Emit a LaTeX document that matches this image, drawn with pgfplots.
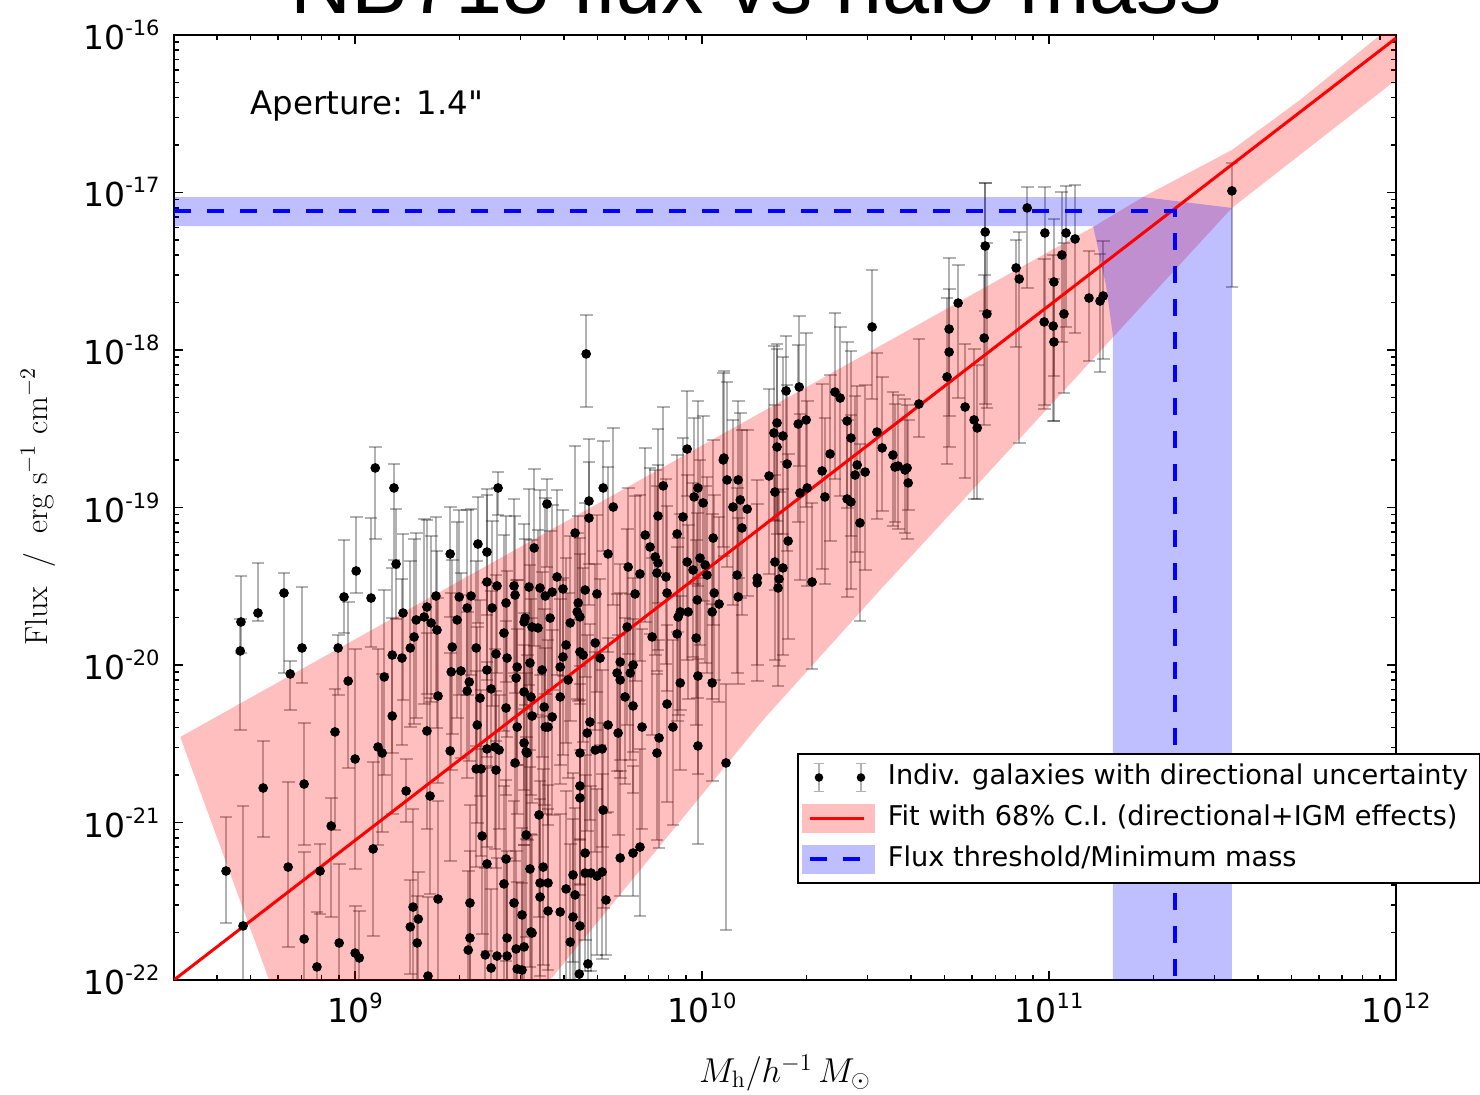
\documentclass[border=0pt]{standalone}
\usepackage{pgfplots}
\pgfplotsset{compat=1.18}
\usepackage{pgfplotstable}
\usepackage{fontspec}
\newfontfamily\dejavu{DejaVu Sans}
\newfontfamily\helv{Liberation Sans}

% log10 halo mass, log10 flux, lower / upper uncertainty in dex
\pgfplotstableread{
lx ly el eh
8.628 -21.308 0.33 0.34
8.677 -21.657 0.62 0.76
8.735 -20.781 0.31 0.30
8.807 -21.283 0.51 0.54
8.853 -20.756 0.39 0.39
8.853 -21.740 0.55 0.55
8.890 -21.917 0.50 0.35
8.899 -21.308 0.27 0.17
8.931 -21.022 0.58 0.18
8.942 -20.425 0.62 0.27
8.954 -21.765 0.50 0.50
9.000 -20.597 0.70 0.70
9.000 -21.829 0.30 0.30
9.012 -21.860 0.30 0.30
9.052 -21.168 0.55 0.55
9.066 -20.521 0.62 0.62
9.078 -20.559 0.50 0.50
9.147 -20.800 0.20 0.20
9.207 -20.419 0.62 0.62
9.216 -20.832 0.62 0.62
9.167 -21.537 0.62 0.62
9.182 -21.613 0.50 0.30
9.159 -21.663 0.30 0.30
9.179 -21.765 0.30 0.30
9.239 -21.486 0.62 0.62
9.210 -21.975 0.50 0.50
9.274 -20.546 0.70 0.62
9.349 -20.660 0.62 0.62
9.363 -20.660 0.55 0.50
9.380 -20.533 0.62 0.55
9.403 -20.521 0.65 0.62
9.415 -20.540 0.50 0.35
9.406 -20.667 0.62 0.50
9.366 -21.086 0.62 0.55
9.380 -21.263 0.55 0.62
9.435 -21.232 0.65 0.50
9.429 -21.390 0.62 0.62
9.458 -21.511 0.55 0.65
9.481 -21.587 0.62 0.55
9.331 -21.511 0.50 0.62
9.331 -21.733 0.55 0.55
9.326 -21.810 0.50 0.50
9.375 -21.841 0.50 0.55
9.392 -21.924 0.35 0.50
9.409 -21.848 0.50 0.62
9.438 -21.848 0.55 0.62
9.438 -21.733 0.62 0.55
9.464 -21.803 0.50 0.62
9.487 -21.790 0.55 0.65
9.467 -21.930 0.50 0.55
9.493 -21.079 0.65 0.62
9.504 -21.295 0.62 0.65
9.507 -21.695 0.55 0.62
9.461 -20.622 0.62 0.55
9.487 -20.495 0.65 0.62
9.493 -20.552 0.55 0.50
9.352 -20.381 0.62 0.62
9.827 -20.394 0.65 0.62
9.916 -20.394 0.62 0.55
9.876 -20.463 0.70 0.62
9.870 -20.559 0.55 0.50
9.988 -20.514 0.62 0.55
9.758 -20.432 0.65 0.62
9.669 -20.432 0.62 0.62
9.648 -20.559 0.55 0.55
9.712 -20.533 0.62 0.50
9.692 -20.540 0.65 0.62
9.556 -20.394 0.62 0.55
9.496 -20.559 0.55 0.62
9.648 -20.768 0.62 0.65
9.648 -20.844 0.55 0.62
9.715 -20.921 0.62 0.55
9.530 -20.952 0.65 0.62
10.069 -20.622 1.06 0.50
9.821 -21.156 0.44 0.62
9.801 -21.194 0.27 0.55
9.764 -21.225 0.24 0.55
9.542 -21.283 0.62 0.62
9.628 -21.333 0.55 0.65
9.663 -21.321 0.62 0.62
9.697 -21.340 0.50 0.55
9.712 -21.314 0.55 0.62
9.680 -21.321 0.62 0.55
9.663 -21.194 0.55 0.62
9.533 -21.384 0.62 0.65
9.556 -21.384 0.55 0.62
9.608 -21.422 0.62 0.62
9.634 -21.460 0.55 0.55
9.533 -21.473 0.50 0.62
9.723 -21.492 0.35 0.55
9.556 -21.562 0.55 0.65
9.591 -21.568 0.62 0.62
9.628 -21.600 0.55 0.62
9.648 -21.657 0.50 0.55
9.510 -21.702 0.55 0.62
9.620 -21.759 0.50 0.62
9.481 -21.937 0.50 0.55
9.671 -21.898 0.30 0.55
9.646 -21.962 0.35 0.50
9.058 -18.749 0.45 0.13
9.112 -18.876 0.46 0.15
9.412 -18.876 0.17 0.10
9.118 -19.359 0.35 0.35
9.003 -19.403 0.14 0.34
8.968 -19.568 0.23 0.36
9.046 -19.575 0.31 0.51
8.795 -19.543 0.51 0.13
8.720 -19.670 0.05 0.32
8.671 -19.727 0.20 0.29
8.669 -19.911 0.50 0.20
8.847 -19.892 0.22 0.39
8.813 -20.057 0.23 0.08
8.951 -19.892 0.30 0.08
9.274 -19.295 0.40 0.30
9.354 -19.232 0.50 0.30
9.380 -19.283 0.40 0.40
9.138 -19.670 0.55 0.50
9.176 -19.714 0.62 0.55
9.199 -19.695 0.55 0.62
9.219 -19.733 0.50 0.55
9.236 -19.778 0.62 0.50
9.207 -19.632 0.55 0.55
9.233 -19.562 0.62 0.50
9.170 -19.822 0.55 0.62
9.159 -19.892 0.50 0.55
9.107 -19.937 0.62 0.55
9.135 -19.956 0.55 0.50
9.084 -20.076 0.62 0.55
8.980 -20.102 0.55 0.50
9.107 -20.324 0.62 0.62
9.239 -20.197 0.55 0.62
9.300 -19.568 0.62 0.55
9.323 -19.638 0.55 0.62
9.334 -19.562 0.50 0.55
9.294 -19.714 0.62 0.62
9.280 -19.886 0.55 0.55
9.277 -20.044 0.62 0.50
9.305 -20.038 0.55 0.62
9.329 -20.108 0.50 0.55
9.349 -19.892 0.62 0.55
9.323 -20.165 0.55 0.50
9.360 -20.210 0.62 0.62
9.380 -20.032 0.55 0.55
9.392 -20.152 0.50 0.62
9.380 -19.473 0.62 0.55
9.409 -19.498 0.55 0.62
9.395 -19.638 0.62 0.55
9.406 -19.930 0.55 0.50
9.435 -19.606 0.50 0.55
9.429 -19.797 0.62 0.62
9.458 -19.498 0.55 0.55
9.461 -19.556 0.62 0.50
9.487 -19.727 0.55 0.62
9.438 -19.956 0.50 0.55
9.467 -20.013 0.62 0.55
9.464 -20.083 0.55 0.62
9.487 -20.171 0.62 0.50
9.435 -20.273 0.55 0.55
9.501 -19.505 0.62 0.62
9.510 -19.759 0.55 0.55
9.507 -20.203 0.62 0.62
9.467 -20.394 0.55 0.62
9.553 -18.978 0.40 0.16
9.674 -18.959 0.40 0.25
9.715 -18.876 0.40 0.30
9.674 -19.067 0.55 0.50
9.744 -18.997 0.62 0.50
9.634 -19.162 0.55 0.55
9.516 -19.257 0.62 0.50
9.888 -18.863 0.55 0.50
9.988 -18.876 0.62 0.55
9.977 -18.933 0.55 0.50
10.003 -18.971 0.62 0.55
10.072 -18.825 0.55 0.62
10.104 -18.825 0.62 0.50
10.061 -18.698 0.55 0.55
10.193 -18.800 0.62 0.55
10.245 -18.724 0.55 0.50
10.346 -18.768 0.62 0.55
10.447 -18.730 0.55 0.50
10.470 -18.775 0.62 0.55
10.441 -18.794 0.55 0.50
10.210 -18.902 0.62 0.55
10.282 -18.908 0.55 0.50
10.303 -18.876 0.62 0.55
10.354 -18.933 0.55 0.50
10.089 -18.997 0.62 0.55
10.130 -19.010 0.55 0.50
10.110 -18.952 0.62 0.55
9.873 -19.054 0.55 0.55
9.945 -19.060 0.62 0.50
10.115 -19.130 0.55 0.62
10.418 -18.946 0.62 0.50
10.429 -18.965 0.55 0.55
10.455 -19.098 0.62 0.50
9.836 -19.175 0.55 0.55
9.928 -19.168 0.62 0.50
10.032 -19.194 0.55 0.62
10.248 -19.213 0.62 0.55
9.850 -19.251 0.55 0.50
9.865 -19.314 0.62 0.55
9.873 -19.352 0.55 0.62
9.729 -19.295 0.62 0.55
9.787 -19.378 0.55 0.50
9.957 -19.346 0.62 0.55
9.994 -19.321 0.55 0.62
10.009 -19.365 0.62 0.50
9.974 -19.397 0.55 0.55
10.014 -19.429 0.62 0.62
9.821 -19.422 0.55 0.50
9.870 -19.416 0.62 0.55
9.896 -19.441 0.55 0.62
10.210 -19.346 0.62 0.55
10.233 -19.384 0.55 0.50
10.101 -19.429 0.62 0.55
10.159 -19.448 0.55 0.62
10.159 -19.479 0.62 0.50
10.222 -19.454 0.55 0.55
10.219 -19.511 0.62 0.62
10.317 -19.473 0.55 0.50
9.582 -19.441 0.62 0.55
9.533 -19.511 0.55 0.62
9.568 -19.537 0.62 0.55
9.599 -19.517 0.55 0.50
9.548 -19.562 0.62 0.62
9.663 -19.524 0.55 0.55
9.697 -19.549 0.62 0.50
9.807 -19.549 0.55 0.62
9.899 -19.543 0.62 0.55
10.104 -19.568 0.55 0.50
10.049 -19.613 0.62 0.55
10.035 -19.543 0.55 0.62
9.643 -19.606 0.62 0.55
9.640 -19.663 0.55 0.50
9.937 -19.663 0.62 0.62
9.960 -19.663 0.55 0.55
9.931 -19.695 0.62 0.50
10.029 -19.663 0.55 0.62
9.986 -19.587 0.62 0.55
9.490 -19.702 0.55 0.50
9.562 -19.702 0.62 0.55
9.527 -19.765 0.55 0.62
9.620 -19.733 0.62 0.55
9.648 -19.695 0.55 0.50
9.784 -19.759 0.62 0.62
9.928 -19.803 0.55 0.55
9.856 -19.822 0.62 0.50
9.983 -19.829 0.55 0.62
9.608 -19.873 0.62 0.55
9.692 -19.860 0.55 0.50
9.648 -19.917 0.62 0.62
9.657 -19.937 0.55 0.55
9.599 -19.949 0.62 0.50
9.504 -19.987 0.55 0.62
9.591 -20.013 0.62 0.55
9.706 -19.956 0.55 0.50
9.764 -19.981 0.62 0.62
9.801 -20.000 0.55 0.55
9.755 -20.051 0.62 0.50
9.539 -20.032 0.55 0.62
9.614 -20.095 0.62 0.55
9.793 -20.051 0.55 0.50
9.988 -20.070 0.62 0.62
9.937 -20.114 0.55 0.55
10.029 -20.114 0.62 0.50
9.591 -20.203 0.55 0.62
9.764 -20.095 0.62 0.55
9.778 -20.203 0.55 0.50
9.545 -20.267 0.62 0.62
9.801 -20.260 0.55 0.55
9.899 -20.248 0.62 0.50
9.510 -20.324 0.55 0.62
9.568 -20.330 0.62 0.55
9.548 -20.394 0.55 0.50
9.677 -20.362 0.62 0.62
9.729 -20.381 0.55 0.55
9.666 -18.025 0.34 0.25
10.490 -17.854 0.46 0.36
9.957 -18.629 0.30 0.37
10.242 -18.260 0.45 0.35
10.280 -18.235 0.50 0.45
10.383 -18.267 0.55 0.50
10.398 -18.305 0.62 0.45
10.418 -18.451 0.55 0.50
10.429 -18.559 0.62 0.55
10.504 -18.521 0.55 0.50
10.216 -18.463 0.62 0.50
10.207 -18.527 0.55 0.55
10.233 -18.546 0.62 0.50
10.216 -18.616 0.55 0.62
10.277 -18.470 0.62 0.50
10.300 -18.444 0.55 0.55
10.063 -18.686 0.62 0.55
10.369 -18.660 0.55 0.50
10.816 -17.251 0.50 0.31
10.816 -17.340 1.00 0.40
10.937 -17.098 0.51 0.13
10.988 -17.257 1.09 0.29
11.049 -17.257 0.60 0.30
11.075 -17.295 0.60 0.34
11.037 -17.397 0.55 0.40
10.905 -17.479 0.50 0.18
10.914 -17.549 1.04 0.30
11.014 -17.568 0.60 0.40
11.043 -17.771 0.50 0.45
10.986 -17.822 0.55 0.40
11.012 -17.848 0.60 0.45
11.014 -17.949 0.50 0.40
10.738 -17.702 0.60 0.24
10.712 -17.867 0.55 0.45
10.712 -18.013 0.60 0.40
10.706 -18.171 0.55 0.50
10.821 -17.771 0.60 0.45
10.813 -17.924 0.55 0.40
11.115 -17.670 0.40 0.30
11.147 -17.689 0.45 0.30
11.156 -17.657 0.40 0.35
10.625 -18.343 0.21 0.41
10.758 -18.362 0.45 0.40
10.784 -18.444 0.50 0.45
10.793 -18.495 0.45 0.40
10.519 -18.622 0.40 0.45
10.550 -18.667 0.45 0.40
10.565 -18.737 0.40 0.45
10.591 -18.749 0.45 0.40
11.527 -16.990 0.61 0.18
10.556 -18.743 0.35 0.40
10.585 -18.762 0.40 0.45
10.594 -18.844 0.17 0.40
}\galaxies

% tick label: "10" with a raised exponent
\newcommand{\tlab}[1]{{\dejavu\fontsize{16.5}{18}\selectfont 10\raisebox{7pt}{\fontsize{10.5}{12}\selectfont #1}}}

\begin{document}
\begin{tikzpicture}
\begin{axis}[
  at={(87pt,57.5pt)}, anchor=south west,
  scale only axis, width=611pt, height=472.5pt,
  xmin=8.478, xmax=12, ymin=-22, ymax=-16,
  xtick={9,10,11,12},
  xticklabels={\tlab{9},\tlab{10},\tlab{11},\tlab{12}},
  ytick={-22,-21,-20,-19,-18,-17,-16},
  yticklabels={\tlab{-22},\tlab{-21},\tlab{-20},\tlab{-19},\tlab{-18},\tlab{-17},\tlab{-16}},
  minor xtick={8.60206,8.69897,8.77815,8.84510,8.90309,8.95424,
    9.30103,9.47712,9.60206,9.69897,9.77815,9.84510,9.90309,9.95424,
    10.30103,10.47712,10.60206,10.69897,10.77815,10.84510,10.90309,10.95424,
    11.30103,11.47712,11.60206,11.69897,11.77815,11.84510,11.90309,11.95424},
  minor ytick={-21.69897,-21.52288,-21.39794,-21.30103,-21.22185,-21.15490,-21.09691,-21.04576,
    -20.69897,-20.52288,-20.39794,-20.30103,-20.22185,-20.15490,-20.09691,-20.04576,
    -19.69897,-19.52288,-19.39794,-19.30103,-19.22185,-19.15490,-19.09691,-19.04576,
    -18.69897,-18.52288,-18.39794,-18.30103,-18.22185,-18.15490,-18.09691,-18.04576,
    -17.69897,-17.52288,-17.39794,-17.30103,-17.22185,-17.15490,-17.09691,-17.04576,
    -16.69897,-16.52288,-16.39794,-16.30103,-16.22185,-16.15490,-16.09691,-16.04576},
  tick align=inside, major tick length=4.5pt, minor tick length=2.5pt,
  every tick/.style={black, line width=0.8pt},
  axis line style={line width=1pt},
  xticklabel style={anchor=north, inner sep=0pt, yshift=-6.5pt},
  yticklabel style={anchor=east, inner sep=0pt, xshift=-7pt},
  legend style={
    at={(0.5098,0.2402)}, anchor=north west,
    draw=black, line width=1pt, fill=white,
    font=\dejavu\fontsize{13.6}{16}\selectfont,
    inner xsep=2pt, inner ysep=3.5pt, row sep=4pt,
    nodes={inner xsep=4pt, inner ysep=1.5pt, text height=10.5pt, text depth=3pt},
    /tikz/every odd column/.append style={column sep=2.5pt},
  },
  legend cell align=left,
]

% individual galaxies
\addplot[only marks, mark=*, mark size=2.2pt, mark options={fill=black, draw=black},
  forget plot,
  error bars/.cd, y dir=both, y explicit, error mark=-,
  error bar style={line width=1pt, draw=black, draw opacity=0.3},
  error mark options={rotate=90, mark size=3.2pt, line width=1pt, draw=black, draw opacity=0.3}]
  table[x=lx, y=ly, y error plus=eh, y error minus=el] {\galaxies};

% 68% confidence band of the fit
\addplot[draw=none, fill=red, fill opacity=0.25, forget plot] coordinates {
  (8.496,-20.457) (11.127,-17.219) (11.271,-17.029) (11.527,-16.730)
  (11.723,-16.413) (12.05,-15.83)
  (12.05,-16.20) (11.527,-17.098) (10.859,-18.698) (10.513,-19.524)
  (10.176,-20.349) (9.562,-22.0) (9.30,-22.71) (8.870,-22.71)} -- cycle;

% flux threshold / minimum mass region
\addplot[draw=none, fill=blue, fill opacity=0.25, forget plot] coordinates {
  (8.40,-17.029) (11.271,-17.029) (11.527,-17.098) (11.527,-22.5)
  (11.184,-22.5) (11.184,-17.905) (11.164,-17.587) (11.127,-17.213)
  (8.40,-17.213)} -- cycle;

% best fit
\addplot[red, line width=1.5pt, forget plot] coordinates {(8.478,-22.0) (12.0,-16.02)};

% threshold and minimum mass
\addplot[blue, line width=2.2pt, dash pattern=on 8.5pt off 8pt, forget plot]
  coordinates {(8.478,-17.117) (11.363,-17.117) (11.363,-22.0)};

\node[anchor=base west, inner sep=0pt, font=\dejavu\fontsize{16.2}{19}\selectfont]
  at (axis cs:8.697,-16.508) {Aperture: 1.4"};

\addlegendimage{legend image code/.code={
  \draw[black!30, line width=0.8pt] (8pt,-7pt) -- (8pt,7pt)
    (5.5pt,-7pt) -- (10.5pt,-7pt) (5.5pt,7pt) -- (10.5pt,7pt);
  \draw[black!30, line width=0.8pt] (29pt,-7pt) -- (29pt,7pt)
    (26.5pt,-7pt) -- (31.5pt,-7pt) (26.5pt,7pt) -- (31.5pt,7pt);
  \fill[black] (8pt,0pt) circle (1.6pt);
  \fill[black] (29pt,0pt) circle (1.6pt);
}}
\addlegendentry{Indiv. galaxies with directional uncertainty}
\addlegendimage{legend image code/.code={
  \fill[red!25] (0pt,-6.75pt) rectangle (35.5pt,6.75pt);
  \draw[red, line width=1.5pt] (3.5pt,0pt) -- (30.5pt,0pt);
}}
\addlegendentry{Fit with 68\% C.I. (directional+IGM effects)}
\addlegendimage{legend image code/.code={
  \fill[blue!25] (0pt,-6.75pt) rectangle (35.5pt,6.75pt);
  \draw[blue, line width=2pt, dash pattern=on 8.5pt off 8pt] (3.5pt,0pt) -- (30.5pt,0pt);
}}
\addlegendentry{Flux threshold/Minimum mass}
\end{axis}

\node[anchor=base, inner sep=0pt, font=\helv\fontsize{42.3}{50}\selectfont]
  at (378pt,540.5pt) {NB718 flux vs halo mass};
\node[font=\fontsize{17}{20}\selectfont] at (392.5pt,11pt) {$M_{\mathrm{h}}/h^{-1}\,M_{\odot}$};
\node[rotate=90, font=\fontsize{16}{19}\selectfont] at (19pt,294pt)
  {Flux\ \ /\ \ erg s$^{-1}$ cm$^{-2}$};

\pgfresetboundingbox
\path[use as bounding box] (0pt,0pt) rectangle (740pt,547.5pt);
\end{tikzpicture}
\end{document}
